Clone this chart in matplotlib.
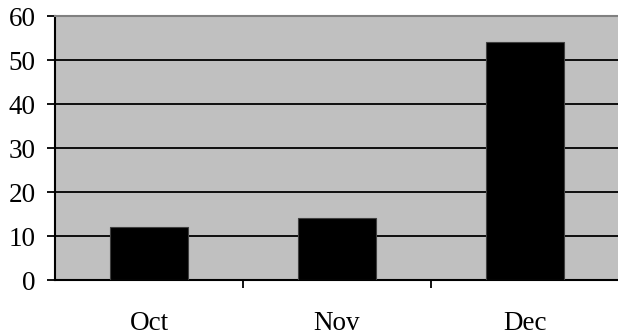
import matplotlib.pyplot as plt
from matplotlib.ticker import FixedLocator

months = ['Oct', 'Nov', 'Dec']
values = [12, 14, 54]
y_ticks = [0, 10, 20, 30, 40, 50, 60]

plt.rcParams['font.family'] = ['Liberation Serif', 'DejaVu Serif']

fig = plt.figure(figsize=(6.18, 3.36), dpi=100)
ax = fig.add_axes([55 / 618, 56 / 336, 564 / 618, 264 / 336])
ax.set_facecolor('#c0c0c0')

x = list(range(len(months)))
ax.bar(x, values, width=0.41, color='black', edgecolor='#404040', linewidth=0.8, zorder=3)

ax.set_xlim(-0.5, len(months) - 0.5)
ax.set_ylim(0, 60)
ax.set_yticks(y_ticks)
ax.yaxis.grid(True, color='black', linewidth=1.3, zorder=1)
ax.set_axisbelow(True)

ax.set_xticks(x)
ax.set_xticklabels(months)
ax.xaxis.set_minor_locator(FixedLocator([0.5, 1.5]))
ax.tick_params(axis='x', which='major', length=0, pad=22, labelsize=19.5)
ax.tick_params(axis='x', which='minor', length=6, width=1.3, color='black', direction='out')
ax.tick_params(axis='y', length=6, width=1.3, pad=8, labelsize=19.5, direction='out')

ax.spines['left'].set_linewidth(1.5)
ax.spines['bottom'].set_linewidth(1.5)
ax.spines['top'].set_color('#808080')
ax.spines['top'].set_linewidth(1.5)
ax.spines['right'].set_visible(False)

fig.savefig('out.png', dpi=100)
